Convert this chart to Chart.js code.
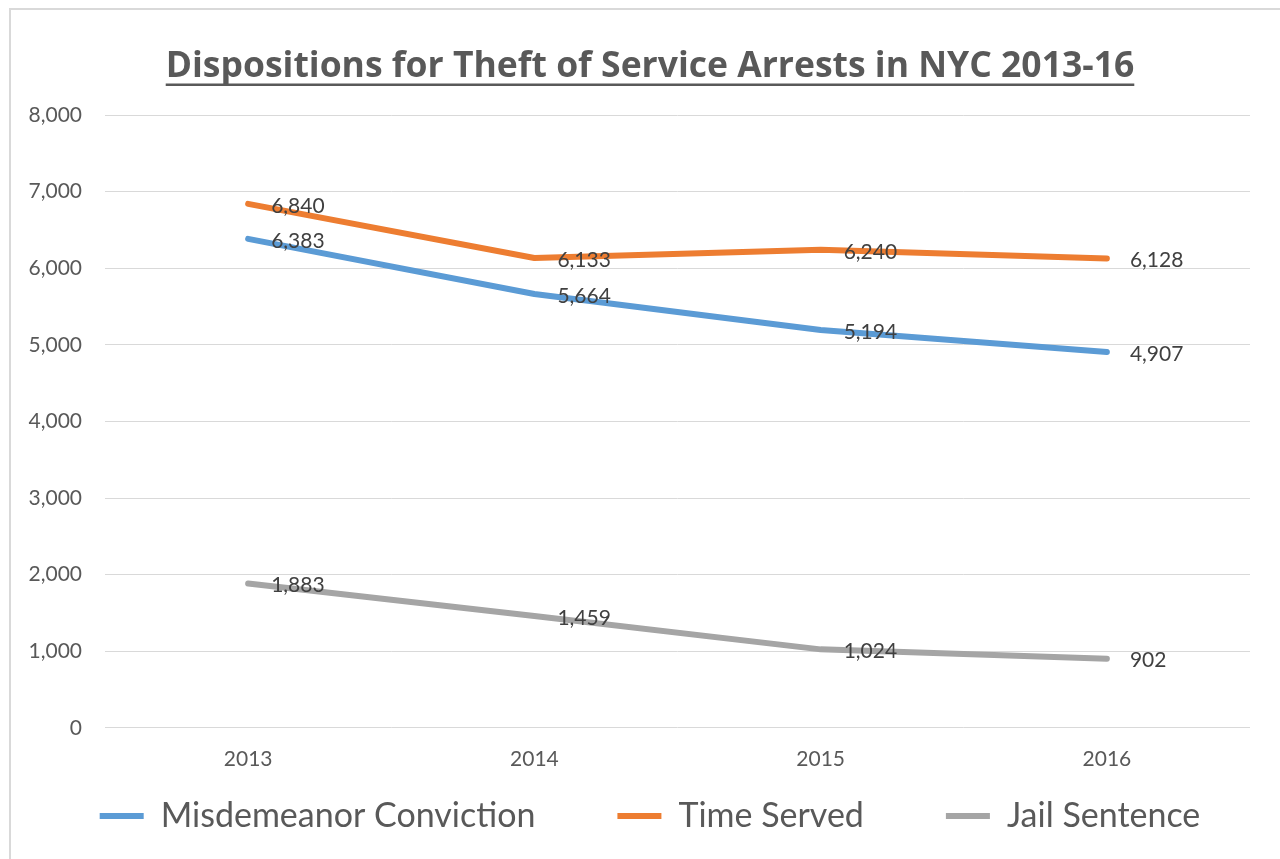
<!DOCTYPE html>
<html>
<head>
<meta charset="utf-8">
<title>Dispositions for Theft of Service Arrests in NYC 2013-16</title>
<script src="https://cdn.jsdelivr.net/npm/chart.js@4.4.0/dist/chart.umd.min.js"></script>
<style>
  html, body { margin: 0; padding: 0; background: #fff; width: 1280px; height: 859px; overflow: hidden; }
  .frame { position: absolute; left: 9px; top: 8px; border-left: 2px solid #d9d9d9; border-top: 2px solid #d9d9d9; }
  .frame canvas { display: block; }
</style>
</head>
<body>
<div class="frame"><canvas id="chart" width="1278" height="907"></canvas></div>
<script>
// data
const years = ['2013', '2014', '2015', '2016'];
const misdemeanorConviction = [6383, 5664, 5194, 4907];
const timeServed = [6840, 6133, 6240, 6128];
const jailSentence = [1883, 1459, 1024, 902];
const yMin = 0, yMax = 8000, yStep = 1000;

const FONT = 'Lato, "Open Sans", "DejaVu Sans", sans-serif';
const TITLE_FONT = '"Open Sans", Lato, "DejaVu Sans", sans-serif';
const GREY_TEXT = '#595959';

// underline under the title, like the Excel original
const titleUnderline = {
    id: 'titleUnderline',
    afterDraw(chart) {
        const tb = chart.titleBlock;
        if (!tb) return;
        const opts = chart.options.plugins.title;
        const font = Chart.helpers.toFont(opts.font);
        const pad = Chart.helpers.toPadding(opts.padding);
        const ctx = chart.ctx;
        ctx.save();
        ctx.font = font.string;
        const w = ctx.measureText(opts.text).width;
        const cx = (tb.left + tb.right) / 2;
        const y = tb.top + pad.top + font.lineHeight / 2 + 17.5;
        ctx.strokeStyle = opts.color;
        ctx.lineWidth = 2.5;
        ctx.beginPath();
        ctx.moveTo(cx - w / 2, y);
        ctx.lineTo(cx + w / 2, y);
        ctx.stroke();
        ctx.restore();
    }
};

// value labels to the right of each point
const pointLabels = {
    id: 'pointLabels',
    afterDatasetsDraw(chart) {
        const ctx = chart.ctx;
        ctx.save();
        ctx.font = '21px ' + FONT;
        ctx.fillStyle = '#404040';
        ctx.textAlign = 'left';
        ctx.textBaseline = 'middle';
        chart.data.datasets.forEach((ds, i) => {
            chart.getDatasetMeta(i).data.forEach((pt, j) => {
                ctx.fillText(ds.data[j].toLocaleString('en-US'), pt.x + 23, pt.y + 2);
            });
        });
        ctx.restore();
    }
};

// the legend needs wide gaps between items (labels.padding), but that also
// pads it vertically, so pull it back up under the axis
const legendNudge = {
    id: 'legendNudge',
    afterLayout(chart) {
        chart.legend.top -= 74;
        chart.legend.bottom -= 74;
    }
};

function lineSeries(label, data, color) {
    return {
        label: label,
        data: data,
        borderColor: color,
        backgroundColor: color,
        borderWidth: 6,
        borderCapStyle: 'round',
        borderJoinStyle: 'round',
        pointRadius: 0,
        pointHoverRadius: 0,
        tension: 0,
        fill: false
    };
}

new Chart(document.getElementById('chart'), {
    type: 'line',
    data: {
        labels: years,
        datasets: [
            lineSeries('Misdemeanor Conviction', misdemeanorConviction, '#5B9BD5'),
            lineSeries('Time Served', timeServed, '#ED7D31'),
            lineSeries('Jail Sentence', jailSentence, '#A5A5A5')
        ]
    },
    options: {
        responsive: false,
        animation: false,
        layout: { padding: 0 },
        scales: {
            x: {
                offset: true,
                grid: { display: false, drawTicks: false },
                border: { display: false },
                ticks: { color: GREY_TEXT, padding: 19, font: { family: FONT, size: 21 } }
            },
            y: {
                min: yMin,
                max: yMax,
                grid: { color: '#d9d9d9', lineWidth: 1, drawTicks: false },
                border: { display: false },
                ticks: {
                    stepSize: yStep,
                    color: GREY_TEXT,
                    padding: 23,
                    font: { family: FONT, size: 21 },
                    callback: v => v.toLocaleString('en-US')
                },
                afterFit(scale) { scale.width = 94; }
            },
            // empty right-hand axis: only keeps a margin right of the plot
            // without shrinking the legend's row
            gap: {
                position: 'right',
                grid: { display: false, drawTicks: false },
                border: { display: false },
                ticks: { display: false },
                afterFit(scale) { scale.width = 39; }
            }
        },
        plugins: {
            title: {
                display: true,
                text: 'Dispositions for Theft of Service Arrests in NYC 2013-16',
                color: GREY_TEXT,
                font: { family: TITLE_FONT, size: 35.5, weight: 'bold' },
                padding: { top: 36, bottom: 26.4 }
            },
            legend: {
                position: 'bottom',
                labels: {
                    usePointStyle: true,
                    pointStyle: 'line',
                    pointStyleWidth: 44,
                    padding: 82,
                    color: GREY_TEXT,
                    font: { family: FONT, size: 34 }
                }
            },
            tooltip: { enabled: false }
        }
    },
    plugins: [titleUnderline, pointLabels, legendNudge]
});
</script>
</body>
</html>
